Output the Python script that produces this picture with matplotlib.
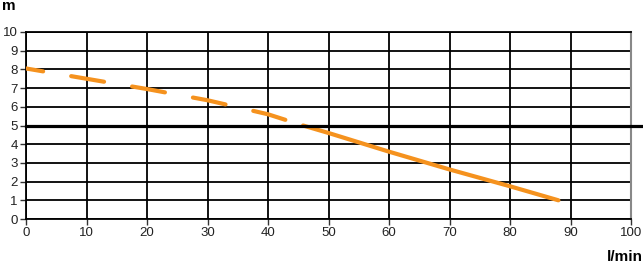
import matplotlib
matplotlib.use("Agg")
import matplotlib.pyplot as plt
import numpy as np

plt.rcParams['font.family'] = ['Liberation Sans', 'DejaVu Sans']
plt.rcParams['lines.scale_dashes'] = False

# curve data (flow l/min, head m)
flow_dashed = [0, 10, 20, 30, 40, 45.8]
head_dashed = [8.05, 7.5, 6.95, 6.35, 5.6, 5.0]
flow_solid = [45.8, 50, 60, 70, 80, 88]
head_solid = [5.0, 4.6, 3.6, 2.65, 1.75, 1.0]
ref_head = 5
x_ticks = list(range(0, 101, 10))
y_ticks = list(range(0, 11, 1))

W, H = 643, 264
fig = plt.figure(figsize=(W/100, H/100), dpi=100)
ax = fig.add_axes([26/W, 1-219/H, (631-26)/W, (219-32)/H])
ax.set_xlim(0, 100)
ax.set_ylim(0, 10)
ax.set_xticks(x_ticks)
ax.set_yticks(y_ticks)
ax.grid(True, color='black', linewidth=1.3)
ax.tick_params(direction='out', length=4, width=1, colors='#333333', labelsize=9.5, pad=2, labelcolor='#222222')
for s in ['left', 'bottom', 'top']:
    ax.spines[s].set_linewidth(1.3)
    ax.spines[s].set_color('black')
ax.spines['right'].set_color('#888888')
ax.spines['right'].set_linewidth(1.5)

orange = '#F5921E'
ax.plot(flow_dashed, head_dashed, color=orange, linewidth=3, solid_capstyle='round',
        dash_capstyle='round', linestyle=(11.5, (24, 20.5)), zorder=3)
ax.plot(flow_solid, head_solid, color=orange, linewidth=3, solid_capstyle='round', zorder=3)

ax.plot([0, 102], [ref_head, ref_head], color='black', linewidth=2.3, clip_on=False, zorder=4)

fig.text(2/W, 1-6/H, 'm', fontsize=11, fontweight='bold', va='center', ha='left')
fig.text(643/W, 1-257/H, 'l/min', fontsize=11, fontweight='bold', va='center', ha='right')

fig.savefig('out.png', dpi=100)
